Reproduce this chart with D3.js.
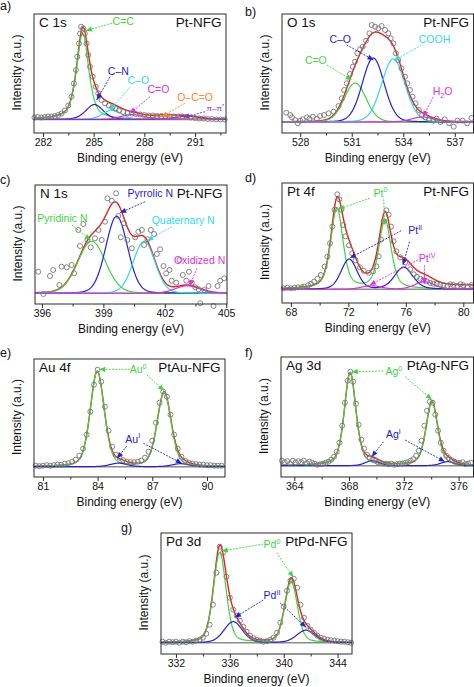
<!DOCTYPE html>
<html><head><meta charset="utf-8">
<script src="https://cdn.jsdelivr.net/npm/d3@7/dist/d3.min.js"></script>
<style>body{margin:0;background:#fff}svg{display:block}</style>
</head><body>
<svg id="chart" width="474" height="687"></svg>
<script>
// ================= DATA =================
const panelIds   = ["a","b","c","d","e","f","g"];
const coreLevels = ["C 1s","O 1s","N 1s","Pt 4f","Au 4f","Ag 3d","Pd 3d"];
const samples    = ["Pt-NFG","Pt-NFG","Pt-NFG","Pt-NFG","PtAu-NFG","PtAg-NFG","PtPd-NFG"];

// x ranges (binding energy, eV) and ticks
const xDomainA=[281.47,292.83], ticksA=[282,285,288,291], minorA=[283.5,286.5,289.5,292.5];
const xDomainB=[526.94,538.09], ticksB=[528,531,534,537], minorB=[529.5,532.5,535.5];
const xDomainC=[395.66,405.04], ticksC=[396,399,402,405], minorC=[397.5,400.5,403.5];
const xDomainD=[67.38,80.71],   ticksD=[68,72,76,80],     minorD=[70,74,78];
const xDomainE=[80.51,90.99],   ticksE=[81,84,87,90],     minorE=[82.5,85.5,88.5];
const xDomainF=[363.03,377.09], ticksF=[364,368,372,376], minorF=[366,370,374];
const xDomainG=[330.89,345.07], ticksG=[332,336,340,344], minorG=[334,338,342];
// intensity ranges (a.u., background = 0)
const yDomainA=[-13.5,105.5], yDomainB=[-11,108], yDomainC=[-10.7,108.3], yDomainD=[-13.7,106.3];
const yDomainE=[-10.3,107.7], yDomainF=[-11.3,108.7], yDomainG=[-11.3,109.7];

// fitted components: centre (eV), height, FWHM (eV), Lorentzian fraction
const peaksA=[
 {name:"C=C",c:284.35,h:86,w:0.85,eta:0.6},
 {name:"C–N",c:285.05,h:15,w:1.2,eta:0.3},
 {name:"C–O",c:286.1,h:9.5,w:1.3,eta:0.2},
 {name:"C=O",c:287.3,h:5,w:1.6,eta:0.2},
 {name:"O–C=O",c:289.1,h:3.2,w:1.6,eta:0.2},
 {name:"π–π*",c:290.5,h:3.2,w:1.8,eta:0.2}];
const peaksB=[
 {name:"C=O",c:531.2,h:39,w:1.5,eta:0.1},
 {name:"C–O",c:532.25,h:64,w:1.5,eta:0.1},
 {name:"COOH",c:533.42,h:63,w:1.6,eta:0.1},
 {name:"H2O",c:535.1,h:5,w:1.5,eta:0.1}];
const peaksC=[
 {name:"Pyridinic N",c:398.43,h:52,w:1.6,eta:0.1},
 {name:"Pyrrolic N",c:399.65,h:77,w:1.25,eta:0.1},
 {name:"Quaternary N",c:400.99,h:52,w:1.25,eta:0.1},
 {name:"Oxidized N",c:403.1,h:7.5,w:1.4,eta:0.1}];
const peaksD=[
 {name:"Pt0",c:71.2,h:81,w:1.0,eta:0.5},
 {name:"Pt0",c:74.55,h:69,w:1.0,eta:0.5},
 {name:"PtII",c:72.05,h:30,w:1.3,eta:0.2},
 {name:"PtII",c:75.85,h:22,w:1.5,eta:0.3},
 {name:"PtIV",c:73.6,h:3.5,w:1.6,eta:0.2},
 {name:"PtIV",c:77.3,h:7.5,w:1.6,eta:0.2}];
const peaksE=[
 {name:"Au0",c:83.98,h:95,w:0.9,eta:0.3},
 {name:"Au0",c:87.65,h:74,w:0.9,eta:0.3},
 {name:"AuI",c:85.15,h:3.5,w:1.1,eta:0.2},
 {name:"AuI",c:88.55,h:3,w:1.1,eta:0.2}];
const peaksF=[
 {name:"Ag0",c:368.08,h:93,w:1.0,eta:0.45},
 {name:"Ag0",c:374.05,h:64,w:1.0,eta:0.45},
 {name:"AgI",c:369.7,h:5,w:1.2,eta:0.2},
 {name:"AgI",c:375.2,h:4,w:1.2,eta:0.2}];
const peaksG=[
 {name:"Pd0",c:335.25,h:90,w:1.1,eta:0.3},
 {name:"Pd0",c:340.55,h:61,w:1.1,eta:0.3},
 {name:"PdII",c:336.25,h:21,w:1.6,eta:0.2},
 {name:"PdII",c:341.65,h:12.5,w:1.6,eta:0.2}];
// Shirley-type background levels [low BE side, high BE side] (only Pt 4f shows one)
const backgroundD=[0,3.7];

// measured data points [eV, intensity]
const pointsA=[[281.5,2],[281.7,2.5],[281.9,2],[282.1,2.5],[282.3,3],[282.5,3],[282.7,3.5],[282.9,4.5],[283.1,6],[283.3,9],[283.5,14],[283.69,22.8],[283.83,36],[283.95,49.5],[284.03,62.8],[284.13,76],[284.19,86],[284.26,92.8],[284.38,91.2],[284.48,86],[284.58,76],[284.68,64.5],[284.78,52.8],[284.94,42.8],[285.12,32.8],[285.27,26.2],[285.47,19.5],[285.67,16.2],[285.9,14],[286.1,12],[286.3,10.5],[286.5,9],[286.75,7.5],[287.0,6.5],[287.25,6],[287.5,5.5],[287.75,5],[288.0,4.5],[288.25,4],[288.5,4],[288.75,3.5],[289.0,3.5],[289.25,3.5],[289.5,3],[289.75,3],[290.0,3],[290.25,3],[290.5,2.5],[290.75,2],[291.0,1.5],[291.25,1],[291.5,1],[291.75,0.5],[292.0,0.5],[292.25,0],[292.5,0],[292.75,0]];
const pointsB=[[527.19,9.3],[527.42,7],[527.52,4.7],[527.71,2],[527.86,-1.3],[528.0,1.3],[528.15,2.7],[528.39,4.7],[528.54,3.3],[528.74,5.3],[528.97,3],[529.16,6],[529.39,7],[529.65,8.7],[529.94,10.3],[530.23,16],[530.42,23.7],[530.56,32],[530.71,38.7],[530.9,48],[531.06,55.3],[531.19,60.3],[531.33,68.7],[531.48,72.7],[531.64,75.3],[531.83,81.3],[532.03,88.7],[532.16,97],[532.36,95.3],[532.55,93.7],[532.74,96],[532.94,92],[533.13,88.7],[533.27,83.7],[533.42,78.7],[533.57,68.7],[533.71,62],[533.9,53.7],[534.1,45.3],[534.23,38.7],[534.39,32],[534.54,25.3],[534.72,18.7],[534.91,12],[535.1,7],[535.3,4.7],[535.51,2.7],[535.74,1.3],[535.94,3.3],[536.17,0],[536.42,2.7],[536.67,-1.3],[536.94,-4.7],[537.16,1.3],[537.45,1.3],[537.72,-1.3],[537.97,4]];
const pointsC=[[395.82,21.6],[396.07,-0.7],[396.39,17.3],[396.55,23.3],[396.85,8.3],[396.96,26.6],[397.21,26],[397.45,28.3],[397.57,20],[397.78,63.3],[397.86,47.3],[398.02,69.3],[398.22,53.3],[398.38,46],[398.59,55],[398.76,63.3],[398.92,53.3],[399.08,71.6],[399.2,95],[399.41,92.6],[399.62,100],[399.73,77.3],[399.85,56],[400.01,70],[400.17,53.3],[400.39,45],[400.55,56],[400.71,61.6],[400.88,63.3],[400.99,48.3],[401.15,54],[401.32,63.3],[401.48,59.3],[401.61,39.3],[401.77,44],[401.94,27.3],[402.07,20],[402.23,23.3],[402.34,12.6],[402.56,10.6],[402.72,33.3],[402.88,18.3],[403.05,12.6],[403.18,21.6],[403.32,10.6],[403.49,6],[403.65,4],[403.73,-10],[403.93,3.3],[404.14,7.3],[404.38,-12.7],[404.58,7.3],[404.71,12.6],[404.9,15]];
const pointsD=[[67.5,1],[67.75,1.5],[68.0,1],[68.25,1.5],[68.5,2],[68.75,2],[68.92,2.7],[69.2,4],[69.4,5.5],[69.61,7.7],[69.85,10.5],[70.08,14.3],[70.35,22.7],[70.54,32.7],[70.72,46],[70.88,62.7],[71.04,79.7],[71.23,95],[71.37,90],[71.51,79.7],[71.64,64.3],[71.8,53],[72.04,44],[72.27,36],[72.5,29],[72.8,22],[73.07,18.5],[73.42,16.5],[73.72,18],[73.95,23],[74.11,33],[74.27,49.7],[74.46,68],[74.64,79],[74.8,74.7],[74.97,62.7],[75.15,48],[75.34,38],[75.61,32],[75.96,27],[76.3,20],[76.55,15],[76.77,12.5],[77.0,10.5],[77.23,9.5],[77.46,8],[77.69,6.5],[77.92,5.5],[78.15,5.3],[78.4,4.5],[78.61,4.3],[78.9,3.5],[79.1,5],[79.3,4.3],[79.6,3.5],[79.8,5],[80.0,4],[80.3,3],[80.57,4.3]];
const pointsE=[[80.6,1],[80.8,0.5],[81.0,1],[81.2,1.5],[81.4,1],[81.6,1.5],[81.8,2],[82.0,2],[82.2,3],[82.4,3.5],[82.6,5],[82.8,7],[83.0,11],[83.2,18],[83.4,32],[83.6,55],[83.8,82],[84.0,97],[84.2,85],[84.4,60],[84.6,36],[84.8,20],[85.0,12],[85.2,9],[85.4,6.5],[85.6,5],[85.8,4.5],[86.0,4.5],[86.2,5],[86.4,6],[86.6,9],[86.8,15],[87.0,26],[87.2,44],[87.4,64],[87.6,75],[87.8,70],[88.0,52],[88.2,32],[88.4,18],[88.6,10],[88.8,6],[89.0,4],[89.2,3],[89.4,2.5],[89.6,2],[89.8,2],[90.0,1.5],[90.2,1.5],[90.4,1],[90.6,1],[90.8,1]];
const pointsF=[[363.1,5],[363.3,3.5],[363.5,4.5],[363.7,2],[363.9,5],[364.1,3],[364.3,4.5],[364.5,3.5],[364.7,5],[364.9,2.5],[365.1,4],[365.3,3],[365.5,2],[365.7,1],[365.9,1.5],[366.1,2],[366.3,3],[366.5,4],[366.7,6],[366.9,9],[367.1,14],[367.3,23],[367.5,40],[367.7,63],[367.9,85],[368.1,94],[368.3,84],[368.5,62],[368.7,41],[368.9,26],[369.1,17],[369.3,11],[369.5,8],[369.7,6],[369.9,5],[370.1,3.5],[370.3,3],[370.5,2],[370.7,2],[370.9,1.5],[371.1,2],[371.3,1],[371.5,1.5],[371.7,2],[371.9,2],[372.1,3],[372.3,3.5],[372.5,5],[372.7,6.5],[372.9,10],[373.1,15],[373.3,25],[373.5,40],[373.7,55],[373.9,64],[374.1,63],[374.3,51],[374.5,35],[374.7,23],[374.9,15],[375.1,10],[375.3,7.5],[375.5,5.5],[375.7,4],[375.9,3],[376.1,2.5],[376.3,3.5],[376.5,1.5],[376.7,2],[376.9,3]];
const pointsG=[[331.0,1],[331.25,0],[331.5,1],[331.75,0.5],[332.0,1],[332.25,0],[332.5,1],[332.75,0.5],[333.0,1.5],[333.25,1],[333.5,2],[333.75,3],[334.0,5],[334.25,9],[334.5,18],[334.75,38],[335.0,70],[335.25,96],[335.5,90],[335.75,66],[336.0,45],[336.25,33],[336.5,27],[336.75,22],[337.0,16],[337.25,11],[337.5,7],[337.75,4.5],[338.0,3],[338.25,2],[338.5,1],[338.75,1.5],[339.0,3],[339.25,5],[339.5,10],[339.75,20],[340.0,36],[340.25,52],[340.5,62],[340.75,64],[341.0,55],[341.25,38],[341.5,25],[341.75,17],[342.0,13],[342.25,10],[342.5,7],[342.75,5],[343.0,4],[343.25,3],[343.5,2.5],[343.75,2],[344.0,1.5],[344.25,1],[344.5,1],[344.75,0.5],[345.0,0]];

// ================= LAYOUT & STYLE =================
const FONT='"Liberation Sans", Arial, Helvetica, sans-serif';
const COL={green:"#3fd43f",blue:"#2222d4",cyan:"#2fdbea",magenta:"#e22ee2",orange:"#ff8a1e",purple:"#8b2be6",red:"#e2231e",gray:"#8c8c8c",pt:"#777777"};
const boxes={a:{l:34,r:226,t:14,b:133},b:{l:282,r:473.5,t:14,b:133},c:{l:35,r:227,t:185,b:304},
 d:{l:282,r:473.5,t:183,b:303},e:{l:34,r:225,t:359,b:477},f:{l:281,r:473.5,t:357,b:477},g:{l:161,r:352,t:533,b:654}};
const letterPos={a:[0,10],b:[245,16],c:[0,184],d:[245,182],e:[0,357],f:[245,357],g:[121,532]};
const compColors={a:["green","blue","cyan","magenta","orange","purple"],b:["green","blue","cyan","magenta"],
 c:["green","blue","cyan","magenta"],d:["green","blue","magenta"],e:["green","blue"],f:["green","blue"],g:["green","blue"]};
// annotations: label centre (eV, a.u.) and arrows [fromE, fromI, toE, toI]
const notes={
 a:[{t:[["C=C"]],col:"green",at:[286.75,94.5],ar:[[286.1,96.5,284.55,88.8]]},
    {t:[["C–N"]],col:"blue",at:[286.46,44.5],ar:[[285.97,42.8,285.18,19.5]]},
    {t:[["C–O"]],col:"cyan",at:[287.64,35.5],ar:[[287.15,32.2,285.97,9.5]]},
    {t:[["C=O"]],col:"magenta",at:[288.83,26.5],ar:[[288.33,22.8,287.15,6.2]]},
    {t:[["O–C=O"]],col:"orange",at:[291.0,18.5],ar:[[290.4,16.2,289.03,2.8]]},
    {t:[["π–π"],["*","sup"]],col:"purple",at:[292.2,8.5],fs:8,ar:[[291.59,7.8,290.3,2.2]]}],
 b:[{t:[["C–O"]],col:"blue",at:[530.33,79],ar:[[530.71,77,532.27,62]]},
    {t:[["C=O"]],col:"green",at:[528.91,58],ar:[[529.55,57,531.0,42]]},
    {t:[["COOH"]],col:"cyan",at:[535.82,79],ar:[[535.07,77,533.43,61.3]]},
    {t:[["H"],["2","sub"],["O"]],col:"magenta",at:[536.29,27],ar:[[535.75,25.3,535.16,5.3]]}],
 c:[{t:[["Pyrrolic N"]],col:"blue",at:[401.29,96.3],ar:[[401.04,91.6,399.82,80.6]]},
    {t:[["Pyridinic N"]],col:"green",at:[397.0,71.6],ar:[[397.46,68.3,398.38,53.3]]},
    {t:[["Quaternary N"]],col:"cyan",at:[402.9,69.3],ar:[[402.35,66.6,401.15,52.6]]},
    {t:[["Oxidized N"]],col:"magenta",at:[403.7,29.3],ar:[[403.57,25,403.21,7.3]]}],
 d:[{t:[["Pt"],["0","sup"]],col:"green",at:[74.23,92.6],ar:[[73.49,91,71.3,80],[74.46,90,74.53,64.3]]},
    {t:[["Pt"],["II","sup"]],col:"blue",at:[76.65,55.3],ar:[[75.68,58.6,72.11,31.3],[76.26,47.6,75.8,24.6]]},
    {t:[["Pt"],["IV","sup"]],col:"magenta",at:[77.48,27.3],ar:[[76.84,29.3,73.49,4.3],[77.3,24,77.3,5.3]]}],
 e:[{t:[["Au"],["0","sup"]],col:"green",at:[86.22,93.7],ar:[[85.78,97.4,84.09,97.4],[86.7,91.7,87.65,76]]},
    {t:[["Au"],["I","sup"]],col:"blue",at:[85.93,24],ar:[[85.6,20.7,85.08,8.4],[86.51,23.4,88.62,3.4]]}],
 f:[{t:[["Ag"],["0","sup"]],col:"green",at:[371.27,90.7],ar:[[370.52,94.7,368.2,94],[372.09,89,374.04,66.4]]},
    {t:[["Ag"],["I","sup"]],col:"blue",at:[371.24,27.7],ar:[[370.52,24,369.66,9],[372.09,25.7,375.0,4]]}],
 g:[{t:[["Pd"],["0","sup"]],col:"green",at:[339.13,94.7],ar:[[338.48,98.7,335.4,91.7],[339.48,90,340.71,65.4]]},
    {t:[["Pd"],["II","sup"]],col:"blue",at:[339.13,43.7],ar:[[338.48,42.7,336.38,25.4],[339.72,40,341.65,15.4]]}]
};

// table assembled from the named arrays
const panels=[
 {xDomain:xDomainA,yDomain:yDomainA,ticks:ticksA,minor:minorA,peaks:peaksA,points:pointsA},
 {xDomain:xDomainB,yDomain:yDomainB,ticks:ticksB,minor:minorB,peaks:peaksB,points:pointsB},
 {xDomain:xDomainC,yDomain:yDomainC,ticks:ticksC,minor:minorC,peaks:peaksC,points:pointsC},
 {xDomain:xDomainD,yDomain:yDomainD,ticks:ticksD,minor:minorD,peaks:peaksD,points:pointsD,bg:backgroundD},
 {xDomain:xDomainE,yDomain:yDomainE,ticks:ticksE,minor:minorE,peaks:peaksE,points:pointsE},
 {xDomain:xDomainF,yDomain:yDomainF,ticks:ticksF,minor:minorF,peaks:peaksF,points:pointsF},
 {xDomain:xDomainG,yDomain:yDomainG,ticks:ticksG,minor:minorG,peaks:peaksG,points:pointsG}
].map((p,i)=>Object.assign(p,{id:panelIds[i],core:coreLevels[i],sample:samples[i]}));

// pseudo-Voigt line shape of a fitted component
function pv(E,p){const d=E-p.c,x=4*d*d/(p.w*p.w);return p.h*(p.eta/(1+x)+(1-p.eta)*Math.exp(-Math.LN2*x));}

const svg=d3.select("#chart");
const defs=svg.append("defs");

function rich(sel,segs,fs){
  let shift=0;
  segs.forEach(([s,k])=>{
    const target=k==="sup"?-0.42*fs:(k==="sub"?0.28*fs:0);
    const ts=sel.append("tspan").text(s).attr("dy",target-shift);
    if(k) ts.attr("font-size",fs*0.68);
    shift=target;
  });
}

function arrow(g,x1,y1,x2,y2,color){
  g.append("line").attr("x1",x1).attr("y1",y1).attr("x2",x2).attr("y2",y2)
   .attr("stroke",color).attr("stroke-width",0.9).attr("stroke-dasharray","2,1.2");
  const a=Math.atan2(y2-y1,x2-x1),L=6,Wd=2.6;
  const bx=x2-L*Math.cos(a),by=y2-L*Math.sin(a);
  const px=-Math.sin(a)*Wd,py=Math.cos(a)*Wd;
  g.append("path").attr("d",`M${x2},${y2}L${bx+px},${by+py}L${bx-px},${by-py}Z`).attr("fill",color);
}

panels.forEach(P=>{
  const B=boxes[P.id];
  const x=d3.scaleLinear().domain(P.xDomain).range([B.l,B.r]);
  const y=d3.scaleLinear().domain(P.yDomain).range([B.b,B.t]);
  const g=svg.append("g");
  defs.append("clipPath").attr("id","clip"+P.id).append("rect")
    .attr("x",B.l).attr("y",B.t).attr("width",B.r-B.l).attr("height",B.b-B.t);
  const plot=g.append("g").attr("clip-path",`url(#clip${P.id})`);

  const n=700;
  const grid=d3.range(n+1).map(i=>P.xDomain[0]+(P.xDomain[1]-P.xDomain[0])*i/n);
  const total=grid.map(E=>d3.sum(P.peaks,p=>pv(E,p)));
  let bg=grid.map(()=>0);
  if(P.bg){const cum=Array.from(d3.cumsum(total));const T=cum[cum.length-1];bg=cum.map(c=>P.bg[0]+(P.bg[1]-P.bg[0])*c/T);}
  const line=d3.line().x(d=>x(d[0])).y(d=>y(d[1]));

  // background
  plot.append("path").attr("d",line(grid.map(E=>[E,0])))
    .attr("fill","none").attr("stroke",COL.gray).attr("stroke-width",1.4);
  // envelope
  plot.append("path").attr("d",line(grid.map((E,i)=>[E,total[i]+bg[i]])))
    .attr("fill","none").attr("stroke",COL.red).attr("stroke-width",1.4);
  // components
  const names=[...new Set(P.peaks.map(p=>p.name))];
  names.forEach((nm,k)=>{
    const pk=P.peaks.filter(p=>p.name===nm);
    plot.append("path").attr("d",line(grid.map(E=>[E,d3.sum(pk,p=>pv(E,p))])))
      .attr("fill","none").attr("stroke",COL[compColors[P.id][k]]).attr("stroke-width",1.2);
  });
  // data points
  g.append("g").selectAll("circle").data(P.points).join("circle")
    .attr("cx",d=>x(d[0])).attr("cy",d=>y(d[1])).attr("r",2.5)
    .attr("fill","none").attr("stroke",COL.pt).attr("stroke-width",0.9);

  // annotations
  notes[P.id].forEach(nt=>{
    const c=COL[nt.col];
    nt.ar.forEach(a=>arrow(g,x(a[0]),y(a[1]),x(a[2]),y(a[3]),c));
    const fs=nt.fs||10.5;
    const t=g.append("text").attr("x",x(nt.at[0])).attr("y",y(nt.at[1])).attr("text-anchor","middle")
      .attr("fill",c).attr("font-family",FONT).attr("font-size",fs);
    rich(t,nt.t,fs);
  });

  // frame
  g.append("rect").attr("x",B.l).attr("y",B.t).attr("width",B.r-B.l).attr("height",B.b-B.t)
    .attr("fill","none").attr("stroke","#2a2a2a").attr("stroke-width",1);

  // axes
  const ax=g.append("g").attr("transform",`translate(0,${B.b})`)
    .call(d3.axisBottom(x).tickValues(P.ticks).tickSize(4).tickPadding(2).tickFormat(d3.format("d")));
  ax.select(".domain").remove();
  ax.selectAll("text").attr("font-family",FONT).attr("font-size",10.5).attr("fill","#111");
  ax.selectAll("line").attr("stroke","#2a2a2a");
  const mx=g.append("g").attr("transform",`translate(0,${B.b})`)
    .call(d3.axisBottom(x).tickValues(P.minor).tickSize(2.5).tickFormat(""));
  mx.select(".domain").remove();
  mx.selectAll("line").attr("stroke","#2a2a2a");

  // texts
  g.append("text").attr("x",B.l+5).attr("y",B.t+13).attr("font-family",FONT).attr("font-size",13.5)
    .attr("fill","#111").text(P.core);
  g.append("text").attr("x",B.r-4.5).attr("y",B.t+13).attr("text-anchor","end").attr("font-family",FONT)
    .attr("font-size",13.5).attr("fill","#111").text(P.sample);
  g.append("text").attr("x",(B.l+B.r)/2).attr("y",B.b+29).attr("text-anchor","middle").attr("font-family",FONT)
    .attr("font-size",12).attr("fill","#111").text("Binding energy (eV)");
  const cy=(B.t+B.b)/2-1, cx=B.l-13.5;
  g.append("text").attr("transform",`translate(${cx},${cy}) rotate(-90)`).attr("text-anchor","middle")
    .attr("font-family",FONT).attr("font-size",12).attr("fill","#111").text("Intensity (a.u.)");
  const lp=letterPos[P.id];
  g.append("text").attr("x",lp[0]).attr("y",lp[1]).attr("font-family",FONT).attr("font-size",12.5)
    .attr("fill","#111").text(P.id+")");
});
</script>
</body></html>
